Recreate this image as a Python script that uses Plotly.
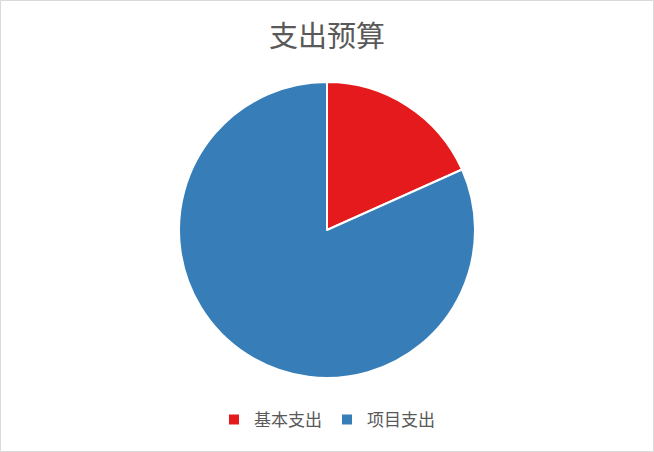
import plotly.graph_objects as go

categories = ["基本支出", "项目支出"]
values = [18.3, 81.7]
colors = ["#E41A1C", "#377EB8"]

W, H = 654, 452
mt, mb = 82, 74
ph = H - mt - mb

fig = go.Figure(go.Pie(
    labels=categories,
    values=values,
    sort=False,
    direction="clockwise",
    rotation=0,
    marker=dict(colors=colors, line=dict(color="#FFFFFF", width=2)),
    textinfo="none",
    hoverinfo="label+value+percent",
))

fig.update_layout(
    width=W, height=H,
    margin=dict(l=0, r=0, t=mt, b=mb),
    paper_bgcolor="#FFFFFF",
    plot_bgcolor="#FFFFFF",
    title=dict(text="支出预算", x=0.5, xanchor="center", y=1 - 37 / H, yanchor="middle",
               font=dict(family="Noto Sans CJK SC", size=29, color="#595959")),
    showlegend=True,
    legend=dict(orientation="h", x=0.5, xanchor="center", y=-(420 - 378) / ph, yanchor="middle",
                font=dict(family="Noto Sans CJK SC", size=17, color="#595959"),
                itemwidth=30, traceorder="normal"),
    shapes=[dict(type="rect", xref="paper", yref="paper",
                 x0=0.5 / W, x1=1 - 0.5 / W,
                 y0=-(mb - 0.5) / ph, y1=1 + (mt - 0.5) / ph,
                 line=dict(color="#D9D9D9", width=1), fillcolor="rgba(0,0,0,0)", layer="below")],
)

fig.write_html("out.html", config={"displayModeBar": False},
               post_script="document.body.style.margin='0';document.body.style.overflow='hidden';")
